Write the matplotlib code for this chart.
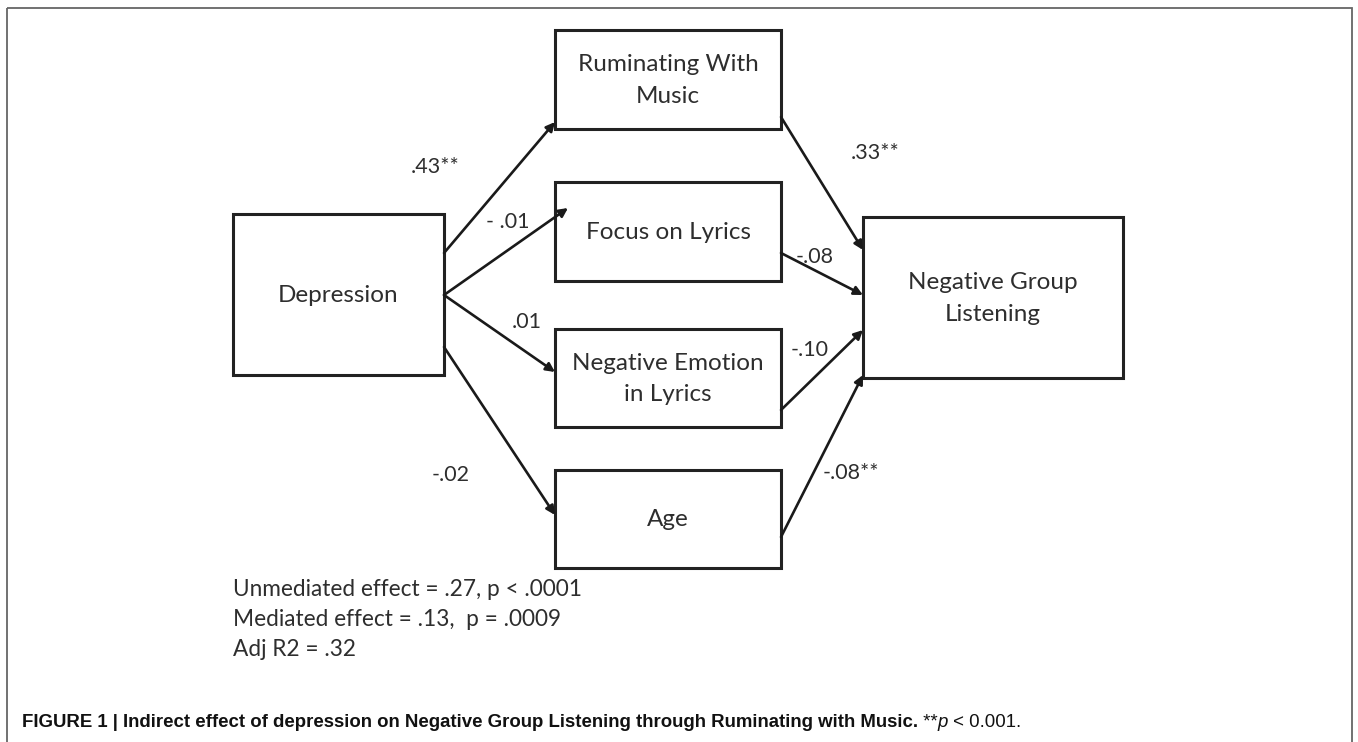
import matplotlib.pyplot as plt
from matplotlib.patches import Rectangle

# dados do diagrama
nodes = ["Depression", "Ruminating With\nMusic", "Focus on Lyrics",
         "Negative Emotion\nin Lyrics", "Age", "Negative Group\nListening"]
a_paths = [".43**", "- .01", ".01", "-.02"]          # Depression -> mediador
b_paths = [".33**", "-.08", "-.10", "-.08**"]        # mediador -> NGL
stats = ["Unmediated effect = .27, p < .0001",
         "Mediated effect = .13,  p = .0009",
         "Adj R2 = .32"]
caption_bold = "FIGURE 1 | Indirect effect of depression on Negative Group Listening through Ruminating with Music."

# layout em pixels (x0, y0, x1, y1)
boxes = [(233, 214, 444, 375),
         (555, 30, 781, 129),
         (555, 182, 781, 281),
         (555, 329, 781, 427),
         (555, 470, 781, 568),
         (863, 217, 1123, 378)]
a_start = [(444, 253), (444, 295), (444, 295), (444, 347)]
a_end = [(555, 122), (568, 208), (555, 372), (555, 515)]
a_lab = [(435, 167), (508, 222), (527, 322), (451, 475)]
b_start = [(781, 117), (781, 253), (781, 410), (781, 537)]
b_end = [(863, 250), (863, 295), (863, 330), (863, 375)]
b_lab = [(875, 153), (815, 257), (810, 350), (851, 473)]

fig = plt.figure(figsize=(13.58, 7.42), dpi=100)
ax = fig.add_axes([0, 0, 1, 1])
ax.set_xlim(0, 1358)
ax.set_ylim(742, 0)
ax.axis('off')

font = 'Lato'
tcol = '#2e2e2e'

# moldura externa
ax.add_patch(Rectangle((7, 8), 1345, 760, fill=False, ec='#666666', lw=1.3, clip_on=True))

for (x0, y0, x1, y1), name in zip(boxes, nodes):
    ax.add_patch(Rectangle((x0, y0), x1 - x0, y1 - y0, fill=False, ec='#222222', lw=2.2))
    ax.text((x0 + x1) / 2, (y0 + y1) / 2 + 1, name, ha='center', va='center',
            fontsize=17.5, family=font, color=tcol, linespacing=1.6)

def arrow(p0, p1):
    ax.annotate('', xy=p1, xytext=p0,
                arrowprops=dict(arrowstyle='-|>', lw=1.9, color='#1a1a1a',
                                mutation_scale=13, shrinkA=0, shrinkB=0))

for p0, p1, (lx, ly), lab in zip(a_start, a_end, a_lab, a_paths):
    arrow(p0, p1)
    ax.text(lx, ly, lab, ha='center', va='center', fontsize=15.5, family=font, color=tcol)

for p0, p1, (lx, ly), lab in zip(b_start, b_end, b_lab, b_paths):
    arrow(p0, p1)
    ax.text(lx, ly, lab, ha='center', va='center', fontsize=15.5, family=font, color=tcol)

for i, s in enumerate(stats):
    ax.text(233, 590 + 30 * i, s, ha='left', va='center', fontsize=16.3, family=font, color=tcol)

# legenda da figura
cap_font = ['Liberation Sans Narrow', 'Liberation Sans']
t1 = ax.text(22, 731, caption_bold, ha='left', va='bottom', fontsize=13.4,
             family=cap_font, weight='bold', color='#111111')
t2 = ax.annotate(" **", xy=(1, 0), xycoords=t1, ha='left', va='bottom',
                 fontsize=13.4, family=cap_font, color='#111111')
t3 = ax.annotate("p", xy=(1, 0), xycoords=t2, ha='left', va='bottom',
                 fontsize=13.4, family=cap_font, style='italic', color='#111111')
ax.annotate(" < 0.001.", xy=(1, 0), xycoords=t3, ha='left', va='bottom',
            fontsize=13.4, family=cap_font, color='#111111')

fig.savefig('out.png', dpi=100)
